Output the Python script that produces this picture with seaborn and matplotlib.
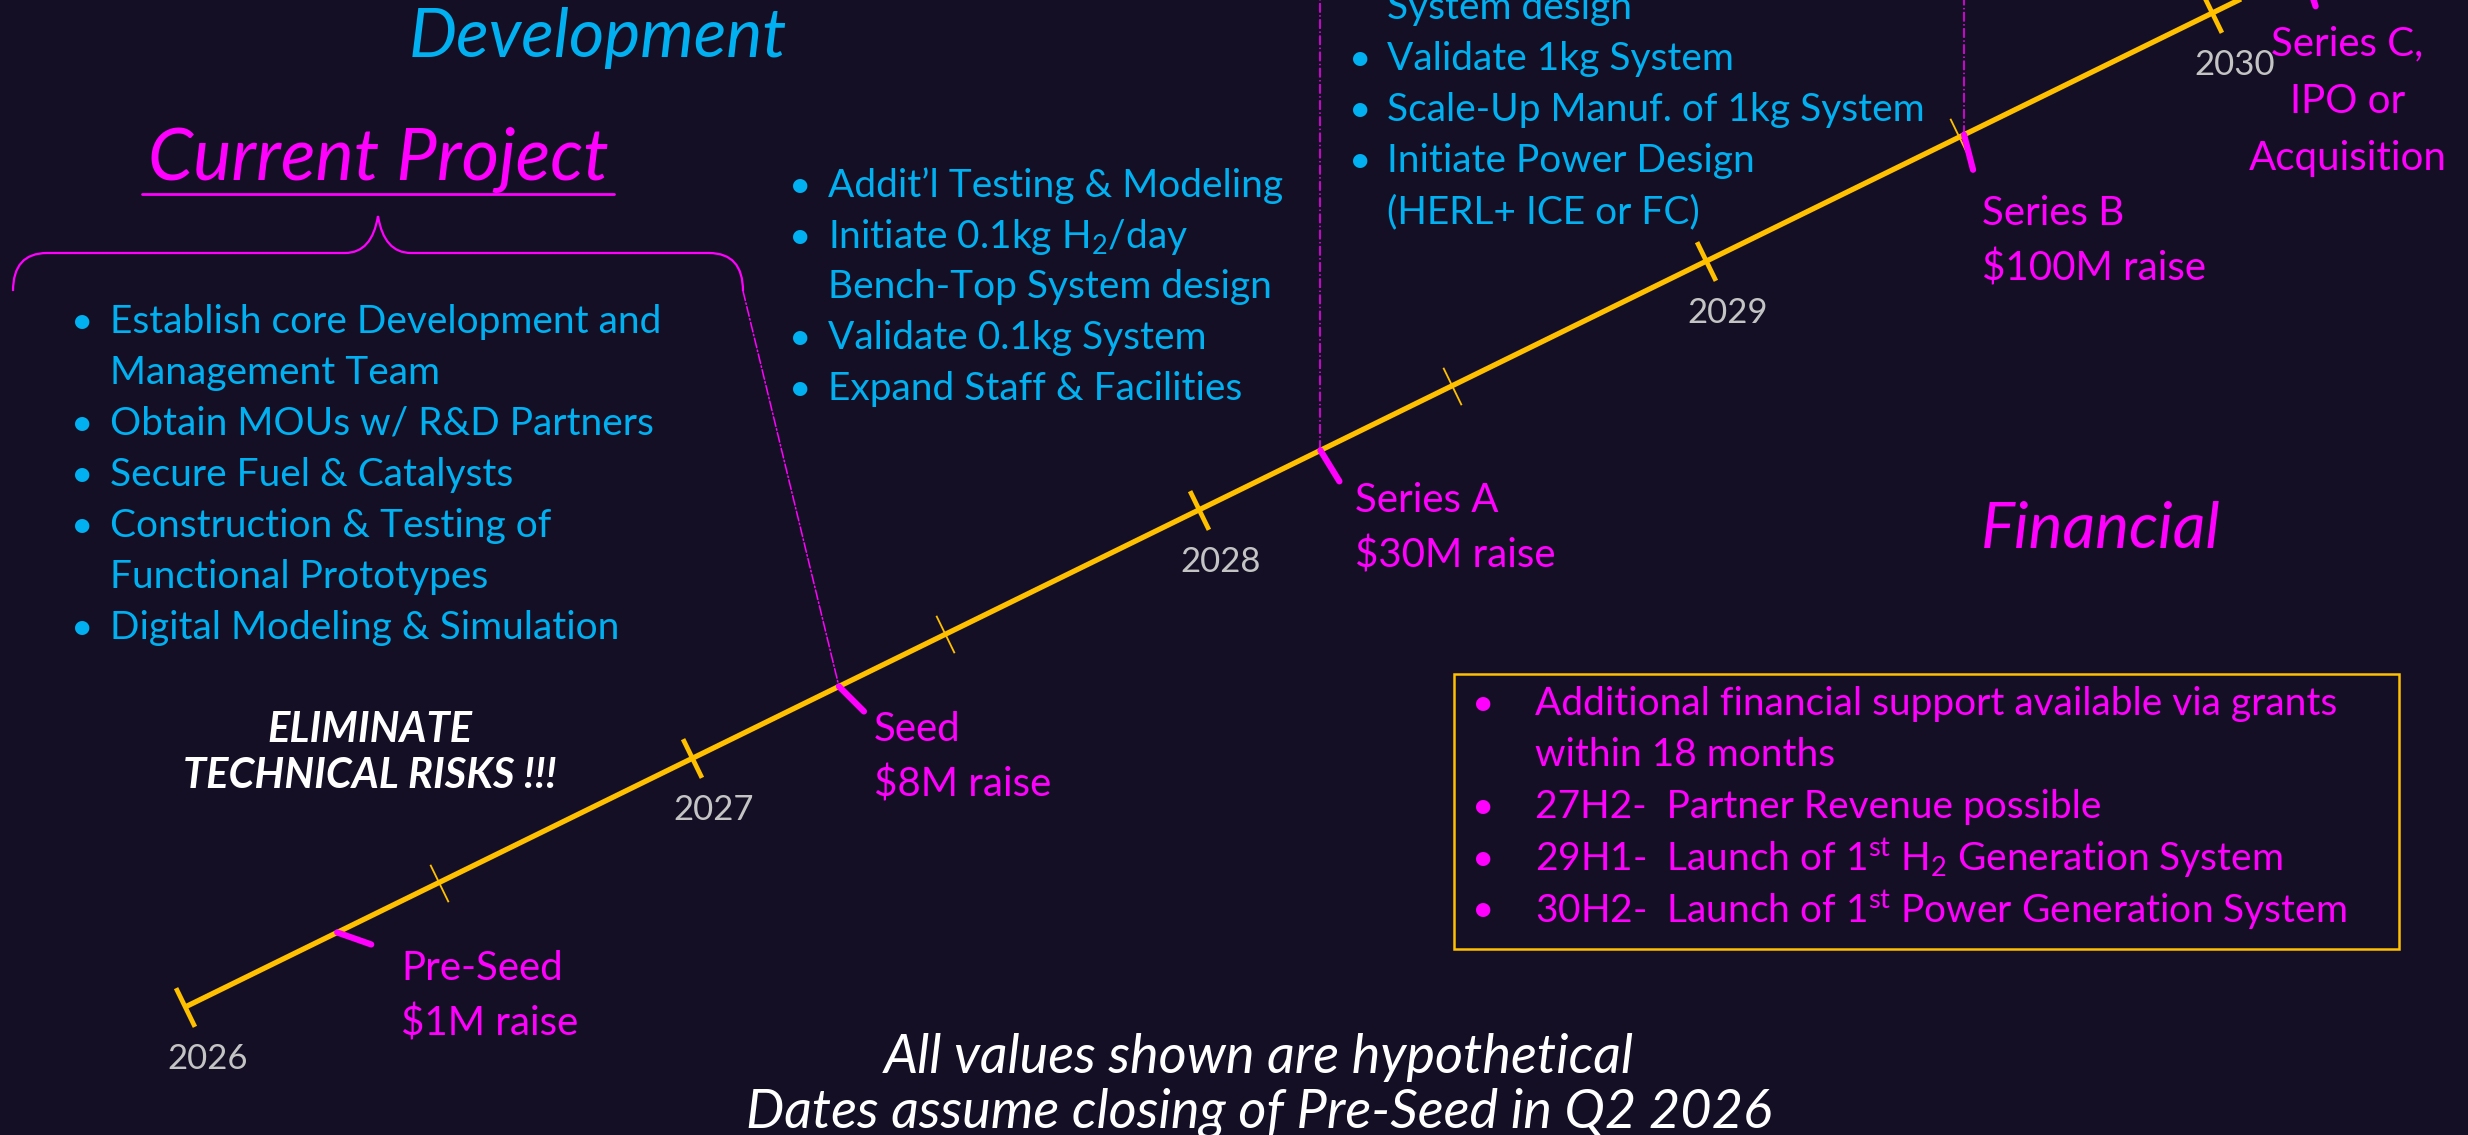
import matplotlib
matplotlib.use("Agg")
import matplotlib.pyplot as plt
from matplotlib.patches import Rectangle, ConnectionPatch, PathPatch
from matplotlib.path import Path
import seaborn as sns

# ---- timeline data ----
years = [2026, 2027, 2028, 2029, 2030]
half_years = [2026.5, 2027.5, 2028.5, 2029.5]
timeline_span = [2026.0, 2031.0]

event_dates = [2026.30, 2027.29, 2028.24, 2029.51, 2030.18]
event_lines = [["Pre-Seed", "$1M raise"],
               ["Seed", "$8M raise"],
               ["Series A", "$30M raise"],
               ["Series B", "$100M raise"],
               ["Series C,", "IPO or", "Acquisition"]]

# ---- text blocks (text, has bullet) ----
current_items = [("Establish core Development and", True),
                 ("Management Team", False),
                 ("Obtain MOUs w/ R&D Partners", True),
                 ("Secure Fuel & Catalysts", True),
                 ("Construction & Testing of", True),
                 ("Functional Prototypes", False),
                 ("Digital Modeling & Simulation", True)]
seed_items = [("Addit\u2019l Testing & Modeling", True),
              ("Initiate 0.1kg H$_2$/day", True),
              ("Bench-Top System design", False),
              ("Validate 0.1kg System", True),
              ("Expand Staff & Facilities", True)]
seriesa_items = [("System design", False),
                 ("Validate 1kg System", True),
                 ("Scale-Up Manuf. of 1kg System", True),
                 ("Initiate Power Design", True),
                 ("(HERL+ ICE or FC)", False)]
financial_items = [("Additional financial support available via grants", True),
                   ("within 18 months", False),
                   ("27H2-  Partner Revenue possible", True),
                   ("29H1-  Launch of 1$^{\\mathrm{st}}$ H$_2$ Generation System", True),
                   ("30H2-  Launch of 1$^{\\mathrm{st}}$ Power Generation System", True)]

# ---- styling ----
BG = "#140F25"
BLUE = "#00B0F0"
MAGENTA = "#FF00FF"
GOLD = "#FFC000"
GREY = "#C4C4C4"
W, H = 2468, 1135

sns.set_style("dark", {"axes.facecolor": BG, "figure.facecolor": BG})
plt.rcParams["font.family"] = ["Lato", "DejaVu Sans"]
plt.rcParams["mathtext.fontset"] = "custom"
plt.rcParams["mathtext.rm"] = "Lato"
plt.rcParams["mathtext.it"] = "Lato:italic"
plt.rcParams["mathtext.bf"] = "Lato:bold"

fig = plt.figure(figsize=(W / 100, H / 100), dpi=100)
fig.patch.set_facecolor(BG)

# timeline axes: year on both axes, diagonal line
ax = fig.add_axes([0, 0, 1, 1])
ax.set_xlim(2025.6346, 2030.5044)
ax.set_ylim(2025.4849, 2030.0523)
ax.axis("off")

# annotation layer in pixel coordinates
tx = fig.add_axes([0, 0, 1, 1])
tx.set_xlim(0, W)
tx.set_ylim(H, 0)
tx.axis("off")

sns.lineplot(x=timeline_span, y=timeline_span, ax=ax, color=GOLD,
             linewidth=3.8, solid_capstyle="butt")
ax.plot(years, years, ls="none", marker=(2, 0, 26), ms=31, mec=GOLD, mew=3.4)
ax.plot(half_years, half_years, ls="none", marker=(2, 0, 26), ms=30, mec=GOLD, mew=1.3)

for yr in years:
    ax.annotate(str(yr), (yr, yr), xytext=(22, -52), textcoords="offset pixels",
                ha="center", va="center", color=GREY, fontsize=25,
                annotation_clip=False)

# funding events
marker_offsets = [(34, -12), (25, -25), (19, -31), (9, -35), (12, -38)]
label_offsets = [(64, -36), (35, -43), (35, -50), (18, -79), (44, -76)]
for i, (d, lines) in enumerate(zip(event_dates, event_lines)):
    ax.annotate("", xy=(d, d), xytext=marker_offsets[i], textcoords="offset pixels",
                arrowprops=dict(arrowstyle="-", color=MAGENTA, lw=4.5,
                                shrinkA=0, shrinkB=0),
                annotation_clip=False)
    step = 57 if len(lines) > 2 else 55
    ha = "center" if len(lines) > 2 else "left"
    for j, s in enumerate(lines):
        ax.annotate(s, (d, d), xytext=(label_offsets[i][0], label_offsets[i][1] - j * step),
                    textcoords="offset pixels", ha=ha, va="center",
                    color=MAGENTA, fontsize=29, annotation_clip=False)

# dash-dot guides up from Series A and Series B
for d in event_dates[2:4]:
    ax.plot([d, d], [d, 2031], color=MAGENTA, lw=1.1, ls="-.")

# brace over current project + guide to Seed
brace = Path([(13, 291), (13, 253), (47, 253), (345, 253), (372, 253), (378, 216),
              (384, 253), (411, 253), (709, 253), (743, 253), (743, 291)],
             [Path.MOVETO, Path.CURVE3, Path.CURVE3, Path.LINETO, Path.CURVE3, Path.CURVE3,
              Path.CURVE3, Path.CURVE3, Path.LINETO, Path.CURVE3, Path.CURVE3])
tx.add_patch(PathPatch(brace, fill=False, ec=MAGENTA, lw=1.6))
con = ConnectionPatch(xyA=(743, 291), coordsA=tx.transData,
                      xyB=(event_dates[1], event_dates[1]), coordsB=ax.transData,
                      color=MAGENTA, lw=1.1, ls="-.")
fig.add_artist(con)

# headings
hand = dict(style="italic", ha="center", va="center")
tx.text(598, 38, "Development", color=BLUE, fontsize=49, **hand)
tx.text(378, 160, "Current Project", color=MAGENTA, fontsize=52, **hand)
tx.plot([142, 614], [194, 194], color=MAGENTA, lw=2)
tx.text(2101, 530, "Financial", color=MAGENTA, fontsize=46, **hand)
tx.text(370, 730, "ELIMINATE", color="white", fontsize=30, weight="bold", **hand)
tx.text(370, 776, "TECHNICAL RISKS !!!", color="white", fontsize=30, weight="bold", **hand)
tx.text(1259, 1058, "All values shown are hypothetical", color="white", fontsize=39, **hand)
tx.text(1259, 1113, "Dates assume closing of Pre-Seed in Q2 2026", color="white", fontsize=39, **hand)


def bullet_block(items, xb, xt, y0, step, color, fs):
    for k, (s, has_bullet) in enumerate(items):
        y = y0 + k * step
        if has_bullet:
            tx.text(xb, y, "\u2022", color=color, fontsize=fs, ha="center", va="center")
        tx.text(xt, y, s, color=color, fontsize=fs, ha="left", va="center")


bullet_block(current_items, 82, 110, 322, 51, BLUE, 28)
bullet_block(seed_items, 800, 828, 186, 50.7, BLUE, 28)
bullet_block(seriesa_items, 1360, 1387, 8, 51, BLUE, 28)

tx.add_patch(Rectangle((1454, 674), 945, 275, fill=False, ec=GOLD, lw=1.8))
bullet_block(financial_items, 1483, 1535, 704, 51.5, MAGENTA, 28)

fig.savefig("out.png", dpi=100, facecolor=BG)
